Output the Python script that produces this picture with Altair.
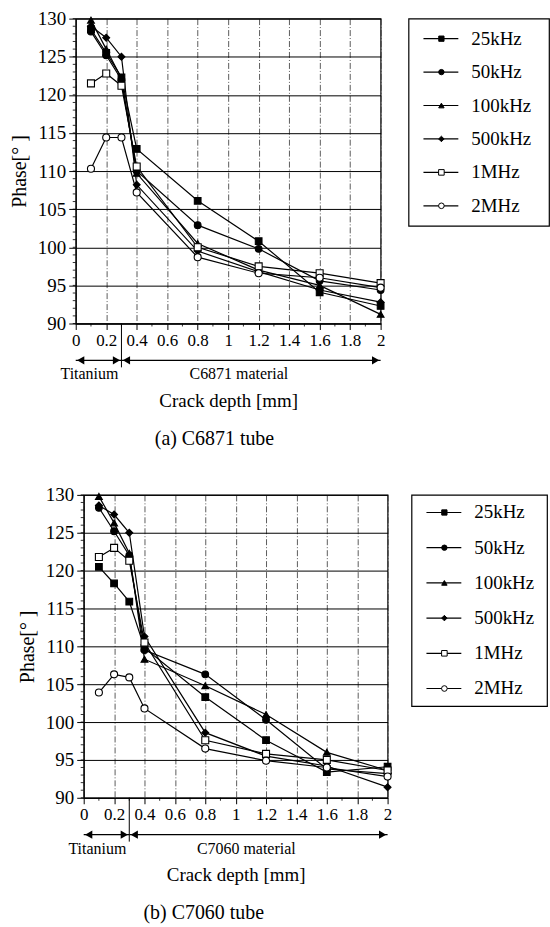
import altair as alt
import pandas as pd

# ---------------- data ----------------
depth = [0.1, 0.2, 0.3, 0.4, 0.8, 1.2, 1.6, 2.0]
series = ["25kHz", "50kHz", "100kHz", "500kHz", "1MHz", "2MHz"]

# (a) C6871 tube
a_25k = [128.6, 125.5, 122.3, 112.9, 106.1, 100.8, 94.1, 92.3]
a_50k = [128.3, 125.2, 122.0, 110.0, 102.9, 99.8, 95.6, 94.4]
a_100k = [129.8, 126.0, 122.2, 109.7, 100.5, 97.0, 95.0, 91.2]
a_500k = [129.0, 127.5, 125.0, 108.2, 99.5, 96.8, 94.4, 92.8]
a_1M = [121.5, 122.8, 121.2, 110.6, 100.0, 97.5, 96.6, 95.3]
a_2M = [110.3, 114.4, 114.4, 107.2, 98.7, 96.6, 96.0, 94.7]

# (b) C7060 tube
b_25k = [120.5, 118.3, 115.9, 109.8, 103.3, 97.6, 93.4, 94.1]
b_50k = [128.3, 125.2, 122.0, 109.5, 106.3, 100.3, 93.8, 93.2]
b_100k = [129.8, 126.3, 122.3, 108.3, 104.8, 101.0, 96.0, 93.6]
b_500k = [128.6, 127.4, 125.0, 111.3, 98.6, 95.5, 94.2, 91.4]
b_1M = [121.8, 123.0, 121.3, 110.5, 97.6, 95.8, 95.0, 93.6]
b_2M = [103.9, 106.3, 105.9, 101.8, 96.5, 94.9, 94.0, 92.8]

x_ticks = [0, 0.2, 0.4, 0.6, 0.8, 1, 1.2, 1.4, 1.6, 1.8, 2]
x_minor = [0.1, 0.3, 0.5, 0.7, 0.9, 1.1, 1.3, 1.5, 1.7, 1.9]
y_ticks = [90, 95, 100, 105, 110, 115, 120, 125, 130]
y_minor = [90, 91, 92, 93, 94, 95, 96, 97, 98, 99, 100, 101, 102, 103, 104,
           105, 106, 107, 108, 109, 110, 111, 112, 113, 114, 115, 116, 117,
           118, 119, 120, 121, 122, 123, 124, 125, 126, 127, 128, 129, 130]

region_start = [0, 0.3]
region_end = [0.3, 2.0]
region_label_pos = [0.09, 1.07]
region_names_a = ["Titanium", "C6871 material"]
region_names_b = ["Titanium", "C7060 material"]
boundary = [0.3]

shapes = ["square", "circle", "triangle-up", "diamond", "square", "circle"]
fills = ["black", "black", "black", "black", "white", "white"]
plot_sizes = [45, 50, 55, 22, 170, 140]
legend_sizes = [28, 32, 34, 16, 75, 70]

FONT = "Liberation Serif"


def panel(vals, names, caption, cap_x, w, h, leg_w, leg_h, leg_pad,
          lead_w, leg_gap):
    rows = []
    for s, v in zip(series, vals):
        for d, p in zip(depth, v):
            rows.append({"depth": d, "phase": p, "series": s})
    df = pd.DataFrame(rows)

    xsc = alt.Scale(domain=[0, 2], nice=False, zero=False)
    ysc = alt.Scale(domain=[90, 130], nice=False, zero=False)
    xax = alt.Axis(values=x_ticks, format="~g", title="Crack depth [mm]",
                   grid=True, gridColor="#333333", gridDash=[6, 2, 1, 2],
                   gridWidth=0.8, tickSize=6, tickColor="black",
                   labelPadding=3, titlePadding=43, labelFontSize=17,
                   titleFontSize=19, labelFlush=False,
                   labelFont=FONT, titleFont=FONT, titleFontWeight="normal",
                   labelColor="black", titleColor="black", domainColor="black")
    yax = alt.Axis(values=y_ticks, title="Phase[°  ]", grid=True,
                   gridColor="black", gridWidth=1, tickSize=7,
                   tickColor="black", labelPadding=3, titlePadding=8,
                   labelFontSize=19, titleFontSize=20,
                   labelFont=FONT, titleFont=FONT, titleFontWeight="normal",
                   labelColor="black", titleColor="black", domainColor="black")
    X = alt.X("depth:Q", scale=xsc, axis=xax)
    Y = alt.Y("phase:Q", scale=ysc, axis=yax)

    lines = alt.Chart(df).mark_line(color="black", strokeWidth=1.2).encode(
        x=X, y=Y, detail="series:N", order="depth:Q")
    points = alt.Chart(df).mark_point(opacity=1, fillOpacity=1,
                                      stroke="black", strokeWidth=1.1).encode(
        x=X, y=Y,
        shape=alt.Shape("series:N", scale=alt.Scale(domain=series, range=shapes), legend=None),
        fill=alt.Fill("series:N", scale=alt.Scale(domain=series, range=fills), legend=None),
        size=alt.Size("series:N", scale=alt.Scale(domain=series, range=plot_sizes), legend=None),
    )

    ymin = alt.Chart(pd.DataFrame({"phase": y_minor})).mark_rule(
        color="black", strokeWidth=0.8).encode(
        y=Y, x=alt.value(-3), x2=alt.value(0))
    xmin = alt.Chart(pd.DataFrame({"depth": x_minor})).mark_rule(
        color="black", strokeWidth=0.8).encode(
        x=X, y=alt.value(h), y2=alt.value(h + 3))

    bdf = pd.DataFrame({"depth": boundary})
    bline = alt.Chart(bdf).mark_rule(color="black", strokeWidth=1).encode(
        x=X, y=alt.value(h), y2=alt.value(h + 44))

    adf = pd.DataFrame({"depth": region_start, "depth_end": region_end})
    arrows = alt.Chart(adf).mark_rule(color="black", strokeWidth=1.3).encode(
        x=X, x2="depth_end:Q", y=alt.value(h + 37))
    lheads = alt.Chart(adf).mark_point(shape="triangle-left", filled=True,
                                       color="black", opacity=1, size=70,
                                       xOffset=5).encode(
        x=X, y=alt.value(h + 37))
    rheads = alt.Chart(pd.DataFrame({"depth": region_end})).mark_point(
        shape="triangle-right", filled=True, color="black", opacity=1,
        size=70, xOffset=-5).encode(x=X, y=alt.value(h + 37))

    ldf = pd.DataFrame({"depth": region_label_pos, "label": names})
    labels = alt.Chart(ldf).mark_text(font=FONT, fontSize=16, color="black",
                                      baseline="middle").encode(
        x=X, y=alt.value(h + 51), text="label:N")

    cdf = pd.DataFrame({"depth": [cap_x], "label": [caption]})
    cap = alt.Chart(cdf).mark_text(font=FONT, fontSize=20, color="black",
                                   baseline="middle").encode(
        x=X, y=alt.value(h + 116), text="label:N")

    plot = alt.layer(lines, points, ymin, xmin, bline, arrows, lheads,
                     rheads, labels, cap).properties(width=w, height=h)

    # legend box
    lg = pd.DataFrame({"item": series})
    Yl = alt.Y("item:N", sort=series, axis=None,
               scale=alt.Scale(type="point", padding=leg_pad))
    lrule = alt.Chart(lg).mark_rule(color="black", strokeWidth=1.2).encode(
        y=Yl, x=alt.value(15), x2=alt.value(50))
    lpts = alt.Chart(lg).mark_point(opacity=1, fillOpacity=1, stroke="black",
                                    strokeWidth=1).encode(
        y=Yl, x=alt.value(33),
        shape=alt.Shape("item:N", scale=alt.Scale(domain=series, range=shapes), legend=None),
        fill=alt.Fill("item:N", scale=alt.Scale(domain=series, range=fills), legend=None),
        size=alt.Size("item:N", scale=alt.Scale(domain=series, range=legend_sizes), legend=None),
    )
    ltxt = alt.Chart(lg).mark_text(font=FONT, fontSize=19, color="black",
                                   align="left", baseline="middle").encode(
        y=Yl, x=alt.value(63), text="item:N")
    # invisible rule that keeps a gap between the plot and the legend box
    lgap = alt.Chart(lg.head(1)).mark_rule(opacity=0).encode(
        x=alt.value(-leg_gap), y=alt.value(0), y2=alt.value(1))
    legend = alt.layer(lgap, lrule, lpts, ltxt).properties(width=leg_w, height=leg_h)

    # invisible lead-in cell that sets the panel's left offset
    lead = alt.Chart(lg.head(1)).mark_rule(opacity=0).encode(
        x=alt.value(0), y=alt.value(0), y2=alt.value(1)
    ).properties(width=lead_w, height=1, view=alt.ViewBackground(strokeOpacity=0))

    return alt.hconcat(lead, plot, legend, spacing=0).resolve_scale(
        x="independent", y="independent", shape="independent",
        fill="independent", size="independent")


top = panel([a_25k, a_50k, a_100k, a_500k, a_1M, a_2M], region_names_a,
            "(a)  C6871 tube", 0.91, 306, 306, 141, 208, 0.6, 8, 20)
bottom = panel([b_25k, b_50k, b_100k, b_500k, b_1M, b_2M], region_names_b,
               "(b)  C7060 tube", 0.79, 305, 304, 136, 212, 0.5, 16, 16)

chart = alt.vconcat(top, bottom, spacing=35).resolve_scale(
    x="independent", y="independent", shape="independent",
    fill="independent", size="independent").properties(
    padding={"left": 0, "top": 7, "right": 0, "bottom": 0},
    background="white"
).configure_view(stroke="black", strokeWidth=1.2)

chart.save("out.html", embed_options={"renderer": "svg", "actions": False})
